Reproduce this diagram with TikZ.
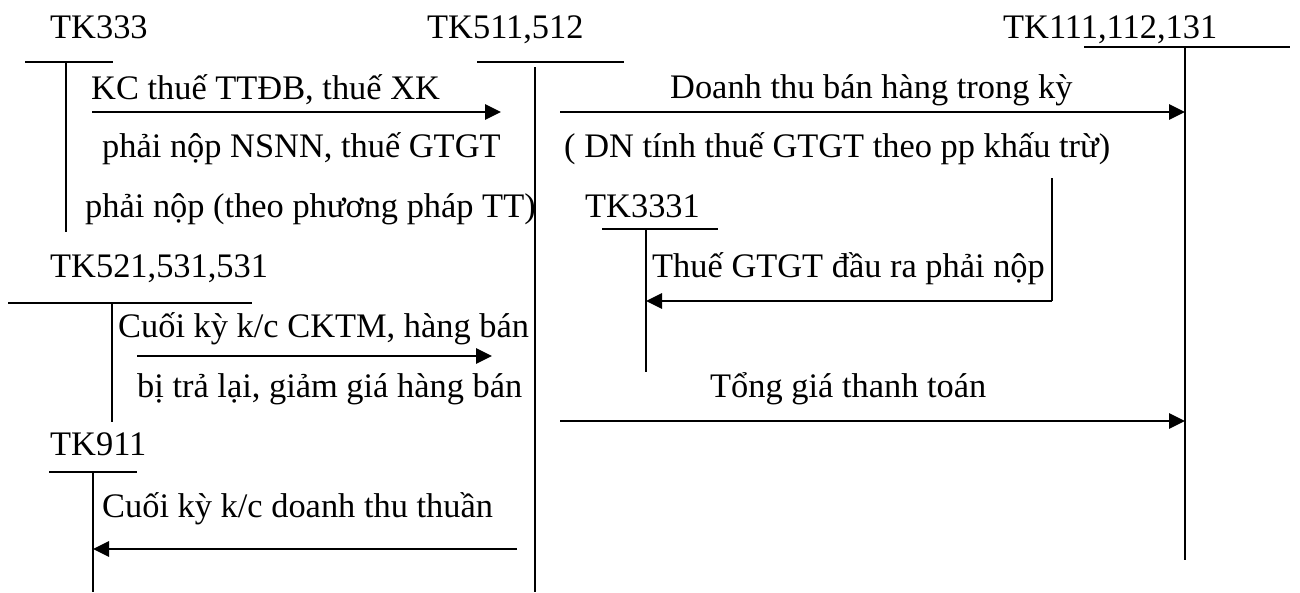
\documentclass[tikz,border=0pt]{standalone}
\usepackage{fontspec}
\setmainfont{Liberation Serif}
\usetikzlibrary{arrows.meta, positioning}
\tikzset{
  >={Triangle[length=16pt, width=15pt]},
  acct/.style={line width=1.6pt},
  flow/.style={->, line width=2.8pt},
  lbl/.style={anchor=base west, inner sep=0pt, font=\fontsize{34.4}{40}\selectfont},
}

\begin{document}
\begin{tikzpicture}[x=1pt, y=-1pt]
  \useasboundingbox (0,0) rectangle (1300,592);

  % account names
  \node[lbl] (tk333) at (50,38) {TK333};
  \node[lbl] (tk511) at (427,38) {TK511,512};
  \node[lbl] (tk111) at (1003,38) {TK111,112,131};
  \node[lbl] (tk521) at (50,277) {TK521,531,531};
  \node[lbl] (tk3331) at (585,217) {TK3331};
  \node[lbl] (tk911) at (50,455) {TK911};

  % T accounts
  \draw[acct] (25,62) -- (113,62) (66,62) -- (66,232);
  \draw[acct] (477,62) -- (624,62) (535,67) -- (535,592);
  \draw[acct] (1084,47) -- (1290,47) (1185,47) -- (1185,560);
  \draw[acct] (8,303) -- (252,303) (112,303) -- (112,422);
  \draw[acct] (602,229) -- (718,229) (646,229) -- (646,372);
  \draw[acct] (49,472) -- (137,472) (93,472) -- (93,592);
  \draw[acct] (1052,178) -- (1052,301);

  % arrow ends
  \coordinate (kcS) at (92,112);    \coordinate (kcE) at (501,112);
  \coordinate (dtS) at (560,112);   \coordinate (dtE) at (1185,112);
  \coordinate (vatS) at (1052,301); \coordinate (vatE) at (646,301);
  \coordinate (tgS) at (560,421);   \coordinate (tgE) at (1185,421);
  \coordinate (ckS) at (137,356);   \coordinate (ckE) at (492,356);
  \coordinate (dtnS) at (517,549);  \coordinate (dtnE) at (93,549);

  \draw[flow] (kcS) -- (kcE);
  \draw[flow] (dtS) -- (dtE);
  \draw[flow] (vatS) -- (vatE);
  \draw[flow] (tgS) -- (tgE);
  \draw[flow] (ckS) -- (ckE);
  \draw[flow] (dtnS) -- (dtnE);

  % entry texts
  \node[lbl] (kc1) at (91,99) {KC thuế TTĐB, thuế XK};
  \node[lbl] (kc2) at (102,157) {phải nộp NSNN, thuế GTGT};
  \node[lbl] (kc3) at (85,217) {phải nộp (theo phương pháp TT)};
  \node[lbl] (dt1) at (670,98) {Doanh thu bán hàng trong kỳ};
  \node[lbl] (dt2) at (564,157) {( DN tính thuế GTGT theo pp khấu trừ)};
  \node[lbl] (vat) at (652,277) {Thuế GTGT đầu ra phải nộp};
  \node[lbl] (ck1) at (118,337) {Cuối kỳ k/c CKTM, hàng bán};
  \node[lbl] (ck2) at (137,397) {bị trả lại, giảm giá hàng bán};
  \node[lbl] (tg) at (710,397) {Tổng giá thanh toán};
  \node[lbl] (dtn) at (102,517) {Cuối kỳ k/c doanh thu thuần};
\end{tikzpicture}
\end{document}
